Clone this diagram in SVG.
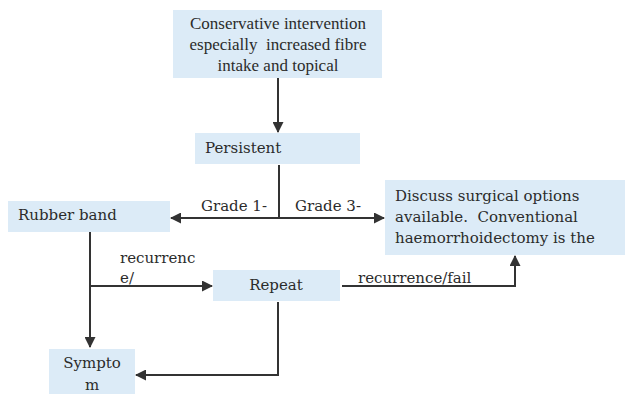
<svg xmlns="http://www.w3.org/2000/svg" width="626" height="394" viewBox="0 0 626 394">
<defs>
<marker id="arr" markerWidth="11" markerHeight="11" refX="10" refY="5.5" orient="auto" markerUnits="userSpaceOnUse">
<path d="M0,0 L11,5.5 L0,11 z" fill="#333"/>
</marker>
<style>
.box{fill:#dcebf7;}
.t{font-family:"DejaVu Serif","Liberation Serif",serif;font-size:15px;fill:#2b2b2b;white-space:pre;}
.tt{font-family:"Liberation Serif","Times New Roman",serif;font-size:17px;fill:#2b2b2b;white-space:pre;}
.ln{fill:none;stroke:#333;stroke-width:2;}
</style>
</defs>
<rect width="626" height="394" fill="#fff"/>
<g id="n-conservative">
<rect class="box" x="173" y="10" width="209" height="68"/>
<text class="tt" text-anchor="middle" x="278" y="29">Conservative intervention</text>
<text class="tt" text-anchor="middle" x="278" y="50" xml:space="preserve">especially  increased fibre</text>
<text class="tt" text-anchor="middle" x="278" y="71">intake and topical</text>
</g>
<g id="n-persistent">
<rect class="box" x="195" y="133" width="165" height="31"/>
<text class="t" x="205" y="153">Persistent</text>
</g>
<g id="n-rubber">
<rect class="box" x="8" y="201" width="162" height="31"/>
<text class="t" x="18" y="220">Rubber band</text>
</g>
<g id="n-discuss">
<rect class="box" x="385" y="180" width="240" height="75"/>
<text class="t" x="395" y="201">Discuss surgical options</text>
<text class="t" x="395" y="222" xml:space="preserve">available.  Conventional</text>
<text class="t" x="395" y="243">haemorrhoidectomy is the</text>
</g>
<g id="n-repeat">
<rect class="box" x="213" y="270" width="127" height="31"/>
<text class="t" text-anchor="middle" x="276" y="290">Repeat</text>
</g>
<g id="n-symptom">
<rect class="box" x="49" y="349" width="86" height="45"/>
<text class="t" text-anchor="middle" x="92" y="368">Sympto</text>
<text class="t" text-anchor="middle" x="92" y="390">m</text>
</g>
<g id="connectors">
<path class="ln" d="M278,78 L278,132" marker-end="url(#arr)"/>
<path class="ln" d="M279,165 L279,218 L171,218" marker-end="url(#arr)"/>
<path class="ln" d="M279,218 L384,218" marker-end="url(#arr)"/>
<path class="ln" d="M90,232 L90,347" marker-end="url(#arr)"/>
<path class="ln" d="M90,286 L212,286" marker-end="url(#arr)"/>
<path class="ln" d="M342,286 L515,286 L515,256" marker-end="url(#arr)"/>
<path class="ln" d="M278,302 L278,375 L136,375" marker-end="url(#arr)"/>
<text class="t" x="201" y="211">Grade 1-</text>
<text class="t" x="295" y="211">Grade 3-</text>
<text class="t" x="120" y="263">recurrenc</text>
<text class="t" x="120" y="283">e/</text>
<text class="t" x="358" y="283">recurrence/fail</text>
</g>
</svg>
